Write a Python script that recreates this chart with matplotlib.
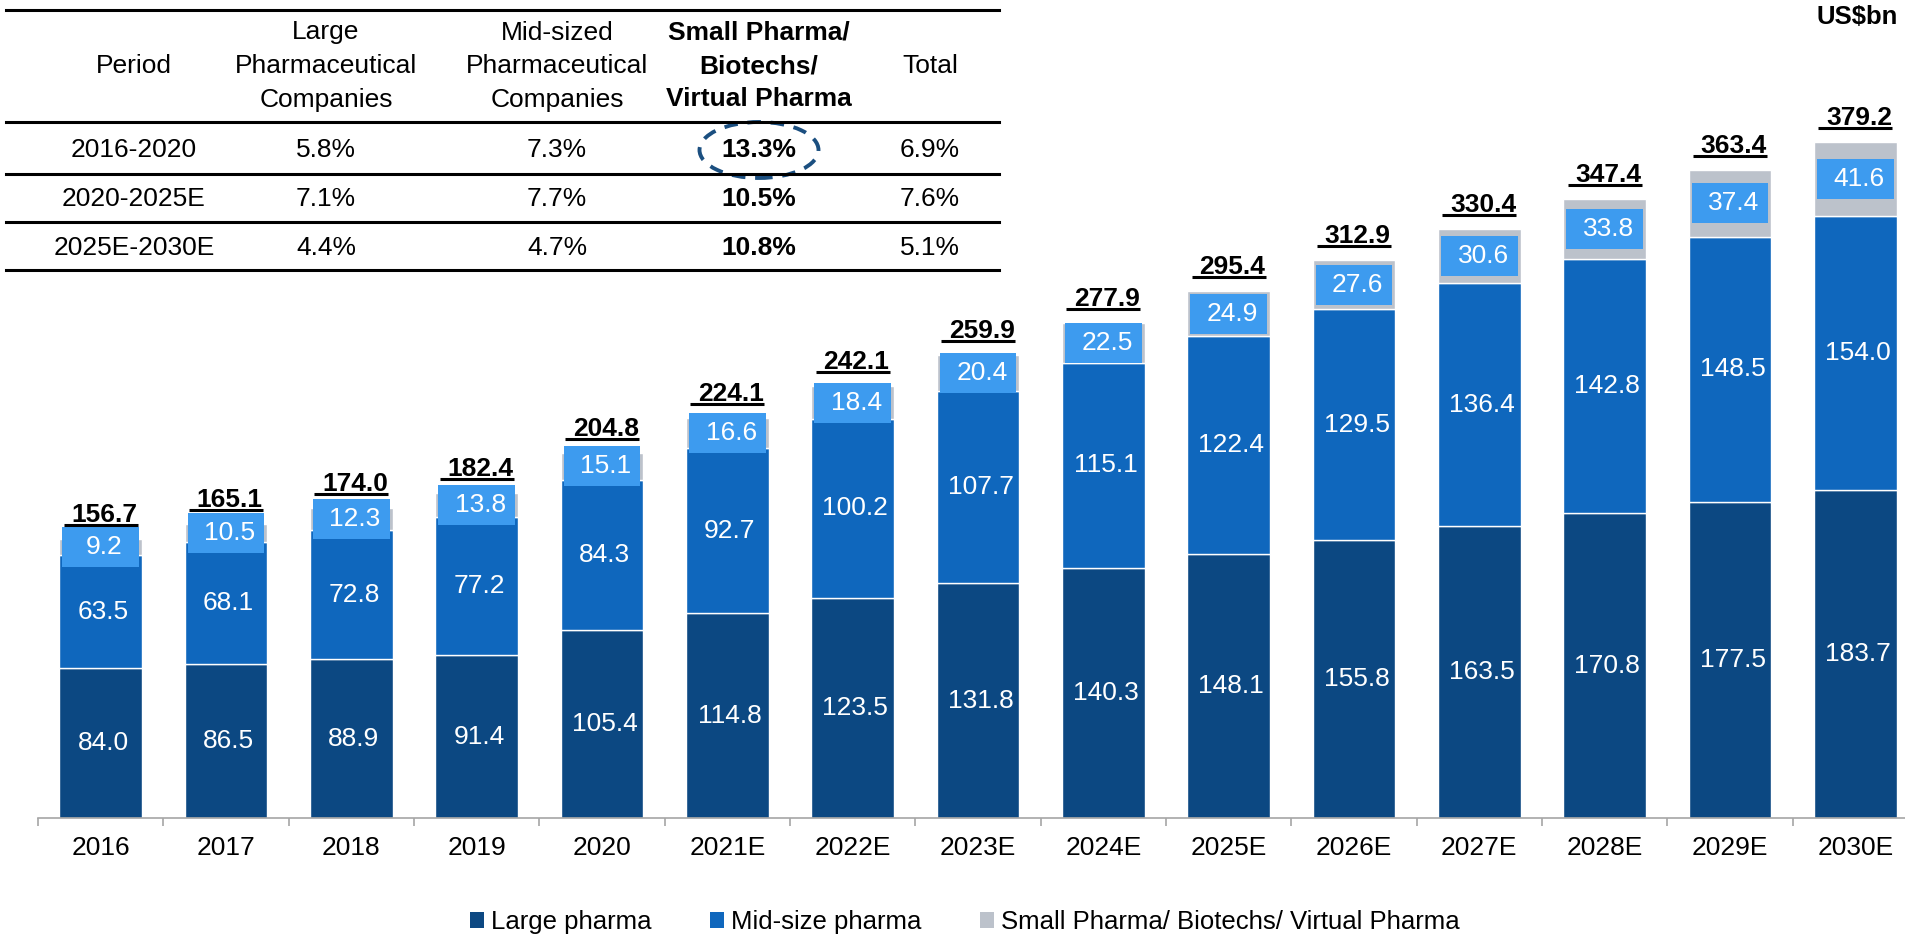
import matplotlib
matplotlib.use("Agg")
import matplotlib.pyplot as plt
from matplotlib.patches import Rectangle, Ellipse, Patch
from matplotlib.lines import Line2D
import numpy as np

plt.rcParams['font.family'] = ['Liberation Sans', 'DejaVu Sans']

years = ['2016', '2017', '2018', '2019', '2020', '2021E', '2022E', '2023E',
         '2024E', '2025E', '2026E', '2027E', '2028E', '2029E', '2030E']
large = [84.0, 86.5, 88.9, 91.4, 105.4, 114.8, 123.5, 131.8, 140.3, 148.1,
         155.8, 163.5, 170.8, 177.5, 183.7]
mid = [63.5, 68.1, 72.8, 77.2, 84.3, 92.7, 100.2, 107.7, 115.1, 122.4,
       129.5, 136.4, 142.8, 148.5, 154.0]
small = [9.2, 10.5, 12.3, 13.8, 15.1, 16.6, 18.4, 20.4, 22.5, 24.9,
         27.6, 30.6, 33.8, 37.4, 41.6]
totals = [156.7, 165.1, 174.0, 182.4, 204.8, 224.1, 242.1, 259.9, 277.9,
          295.4, 312.9, 330.4, 347.4, 363.4, 379.2]

series_names = ['Large pharma', 'Mid-size pharma',
                'Small Pharma/ Biotechs/ Virtual Pharma']

table_header = ['Period', 'Large\nPharmaceutical\nCompanies',
                'Mid-sized\nPharmaceutical\nCompanies',
                'Small Pharma/\nBiotechs/\nVirtual Pharma', 'Total']
table_rows = [['2016-2020', '5.8%', '7.3%', '13.3%', '6.9%'],
              ['2020-2025E', '7.1%', '7.7%', '10.5%', '7.6%'],
              ['2025E-2030E', '4.4%', '4.7%', '10.8%', '5.1%']]

C_LARGE = '#0c4882'
C_MID = '#0f67bd'
C_SMALL = '#bcc2cb'
C_BOX = '#3d9bef'

W, H = 1906, 935
fig = plt.figure(figsize=(W / 100, H / 100), dpi=100)

# axes geometry in pixels
ax_left, ax_right = 38, 1918
ax_bottom = 818
px_per_unit = 1.783
ymax = 455
ax_h = ymax * px_per_unit
ax = fig.add_axes([ax_left / W, (H - ax_bottom) / H, (ax_right - ax_left) / W, ax_h / H])

x = np.arange(len(years))
bw = 0.66
large_a = np.array(large)
mid_a = np.array(mid)
small_a = np.array(small)

ax.bar(x, large_a, bw, color=C_LARGE, edgecolor='white', linewidth=1.0)
ax.bar(x, mid_a, bw, bottom=large_a, color=C_MID, edgecolor='white', linewidth=1.0)
ax.bar(x, small_a, bw, bottom=large_a + mid_a, color=C_SMALL, edgecolor='white', linewidth=1.0)

box_h = 40 / px_per_unit
box_w = bw - 0.05
fs = 19
for i in range(len(years)):
    ax.text(x[i] + 0.02, large[i] / 2, f'{large[i]:.1f}', ha='center', va='center',
            color='white', fontsize=fs)
    ax.text(x[i] + 0.02, large[i] + mid[i] / 2, f'{mid[i]:.1f}', ha='center', va='center',
            color='white', fontsize=fs)
    cy = large[i] + mid[i] + small[i] / 2
    ax.add_patch(Rectangle((x[i] - box_w / 2, cy - box_h / 2), box_w, box_h,
                           facecolor=C_BOX, edgecolor='none', zorder=3))
    ax.text(x[i] + 0.03, cy, f'{small[i]:.1f}', ha='center', va='center',
            color='white', fontsize=fs, zorder=4)
    # total label with underline
    ytot = totals[i] + 17 / px_per_unit
    ax.text(x[i] + 0.03, ytot, f'{totals[i]:.1f}', ha='center', va='baseline',
            color='black', fontsize=fs, fontweight='bold', zorder=4)
    yul = totals[i] + 14 / px_per_unit
    ax.plot([x[i] - 0.295, x[i] + 0.295], [yul, yul], color='black', lw=2.2,
            solid_capstyle='butt', zorder=4)

ax.set_xlim(-0.5, len(years) - 0.5)
ax.set_ylim(0, ymax)
for s in ['top', 'right', 'left']:
    ax.spines[s].set_visible(False)
ax.spines['bottom'].set_color('#a6a6a6')
ax.spines['bottom'].set_linewidth(1.2)
ax.set_yticks([])
ax.set_xticks(x)
ax.set_xticklabels(years, fontsize=fs)
ax.tick_params(axis='x', which='major', length=0, pad=13)
ax.set_xticks(np.arange(-0.5, len(years), 1.0), minor=True)
ax.tick_params(axis='x', which='minor', length=6, color='#a6a6a6', width=1.2)

# legend
def fx(px):
    return px / W

def fy(py):
    return 1 - py / H

handles = [Patch(facecolor=c, edgecolor='none') for c in (C_LARGE, C_MID, C_SMALL)]
fig.legend(handles, series_names, loc='center left', bbox_to_anchor=(fx(470), fy(922)),
           ncol=3, frameon=False, fontsize=18.5, handlelength=0.55, handleheight=0.55,
           handletextpad=0.25, columnspacing=2.3, borderpad=0, borderaxespad=0)

# table
tl, tr = 6, 999
for yy in (10, 122, 174, 222, 270):
    fig.add_artist(Line2D([fx(tl), fx(tr)], [fy(yy), fy(yy)], color='black', lw=2.2,
                          transform=fig.transFigure))
col_x = [134, 326, 557, 759, 930]
tfs = 19
for j, h in enumerate(table_header):
    fig.text(fx(col_x[j]), fy(66), h, ha='center', va='center', fontsize=tfs,
             fontweight='bold' if j == 3 else 'normal', linespacing=1.5)
row_y = [150, 199, 248]
for r, row in enumerate(table_rows):
    for j, v in enumerate(row):
        fig.text(fx(col_x[j]), fy(row_y[r]), v, ha='center', va='center', fontsize=tfs,
                 fontweight='bold' if j == 3 else 'normal')
fig.add_artist(Ellipse((fx(759), fy(150)), 119 / W, 56 / H, transform=fig.transFigure,
                       fill=False, edgecolor='#1b4f80', lw=2.8, linestyle=(0, (3.5, 2.5))))

fig.text(fx(1898), fy(17), 'US$bn', ha='right', va='center', fontsize=18.5, fontweight='bold')

fig.savefig('out.png', dpi=100)
